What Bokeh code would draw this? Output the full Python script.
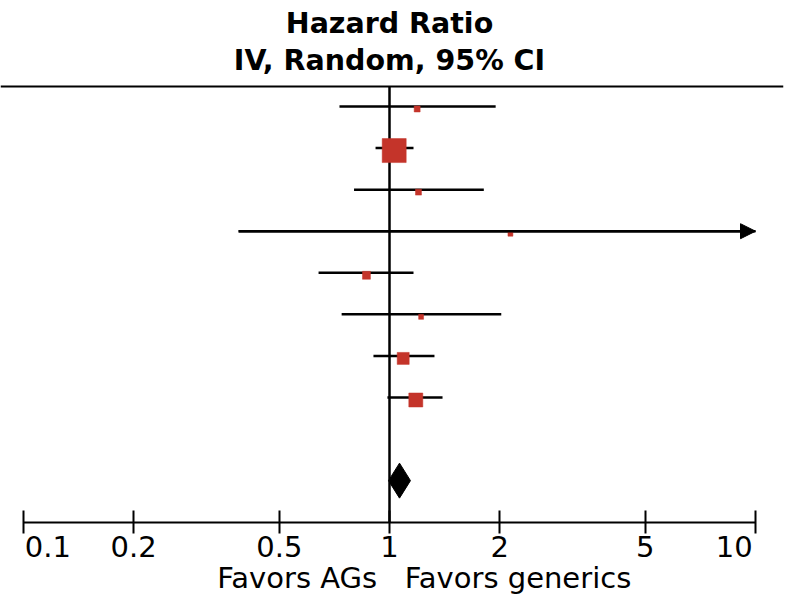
import math
from bokeh.plotting import figure
from bokeh.models import Range1d, FixedTicker, Span, Arrow, NormalHead, ColumnDataSource
from bokeh.core.properties import value
from bokeh.embed import file_html
from bokeh.resources import INLINE

# ---------------- data ----------------
rows = [1, 2, 3, 4, 5, 6, 7, 8]
hr = [1.19, 1.03, 1.20, 2.14, 0.865, 1.22, 1.09, 1.18]
lower = [0.73, 0.916, 0.80, 0.387, 0.64, 0.74, 0.904, 0.987]
upper = [1.95, 1.163, 1.81, 11.8, 1.163, 2.02, 1.327, 1.396]
weight = [3.2, 52.0, 3.2, 2.2, 5.7, 2.2, 13.0, 17.7]

pooled_row = 10
pooled_hr = 1.065
pooled_lower = 0.994
pooled_upper = 1.141

tick_values = [0.1, 0.2, 0.5, 1, 2, 5, 10]
tick_labels = ["0.1", "0.2", "0.5", "1", "2", "5", "10"]

title_1 = "Hazard Ratio"
title_2 = "IV, Random, 95% CI"
favors_left = "Favors AGs"
favors_right = "Favors generics"

# ---------------- layout constants ----------------
W, H = 796, 597
AXIS_LEFT_PX = 23.0     # canvas x of the first tick
PX_DEC = 366.0          # pixels per decade on the x axis
ROW_PX = 41.57          # pixels per row
ROW1_PX = 106.0         # canvas y of row 1
FRAME_W = 783
FRAME_H = 522.0         # frame height (axis line position)
AX_MIN, AX_MAX = tick_values[0], tick_values[-1]

x_lo = 10 ** (math.log10(AX_MIN) - AXIS_LEFT_PX / PX_DEC)
x_hi = 10 ** (math.log10(AX_MIN) + (FRAME_W - AXIS_LEFT_PX) / PX_DEC)
y_top = 1 - ROW1_PX / ROW_PX
y_bot = 1 + (FRAME_H - ROW1_PX) / ROW_PX


def y_at(canvas_px):
    return 1 + (canvas_px - ROW1_PX) / ROW_PX


FONT = "DejaVu Sans"
RED = "#c4342a"
NB = "\u00a0"
THIN = "\u2009"
LABEL_SIZE = "29px"
TITLE_SIZE = "28.5px"

p = figure(width=W, height=H, x_axis_type="log",
           x_range=Range1d(x_lo, x_hi), y_range=Range1d(y_bot, y_top),
           y_axis_location=None, toolbar_location=None, output_backend="svg",
           min_border_left=0, min_border_right=W - FRAME_W, min_border_top=0,
           min_border_bottom=int(H - FRAME_H))
p.xgrid.visible = False
p.ygrid.visible = False
p.outline_line_color = None
p.background_fill_color = "white"
p.border_fill_color = "white"

# header line
y_line = y_at(86)
p.add_layout(Span(location=y_line, dimension="width", line_color="black", line_width=2))

# line of no effect
p.segment(x0=[1], x1=[1], y0=[y_line], y1=[y_bot], line_color="black", line_width=2.5)

# confidence intervals
up_clip = [min(u, AX_MAX) for u in upper]
lo_clip = [max(l, AX_MIN) for l in lower]
src = ColumnDataSource(dict(
    row=rows, hr=hr, lo=lo_clip, up=up_clip,
    row_sq=[r + 2.5 / ROW_PX for r in rows],
    size=[24 * math.sqrt(w / max(weight)) for w in weight],
))
p.segment(x0="lo", x1="up", y0="row", y1="row", source=src, line_color="black", line_width=2.5)

for r, l, u in zip(rows, lower, upper):
    if u > AX_MAX:
        p.add_layout(Arrow(x_start=max(l, AX_MIN), x_end=AX_MAX, y_start=r, y_end=r,
                           line_color="black", line_width=2.5,
                           end=NormalHead(size=15, fill_color="black", line_color="black")))

p.scatter(x="hr", y="row_sq", size="size", marker="square", source=src,
          fill_color=RED, line_color=RED, line_width=0.5)

# pooled diamond
dh = 17.5 / ROW_PX
p.patch(x=[pooled_lower, pooled_hr, pooled_upper, pooled_hr],
        y=[pooled_row, pooled_row - dh, pooled_row, pooled_row + dh],
        fill_color="black", line_color="black")

# header text
p.text(x=[1], y=[y_at(23)], text=[title_1], text_font=value(FONT), text_font_style="bold",
       text_font_size=TITLE_SIZE, text_align="center", text_baseline="alphabetic", text_color="black")
p.text(x=[1], y=[y_at(60)], text=[title_2], text_font=value(FONT), text_font_style="bold",
       text_font_size=TITLE_SIZE, text_align="center", text_baseline="alphabetic", text_color="black")

# x axis
ax = p.xaxis[0]
ax.ticker = FixedTicker(ticks=tick_values, minor_ticks=[])
overrides = {}
for t, lab in zip(tick_values, tick_labels):
    overrides[t] = lab
overrides[tick_values[0]] = NB * 2 + THIN + tick_labels[0]
overrides[tick_values[-1]] = tick_labels[-1] + NB * 4 + THIN
ax.major_label_overrides = overrides
ax.bounds = (AX_MIN, AX_MAX)
ax.axis_line_color = "black"
ax.axis_line_width = 2
ax.major_tick_line_color = "black"
ax.major_tick_line_width = 2
ax.major_tick_in = 12
ax.major_tick_out = 11
ax.minor_tick_line_color = None
ax.major_label_text_font = FONT
ax.major_label_text_font_size = LABEL_SIZE
ax.major_label_text_color = "black"
ax.major_label_standoff = -4

# favours label (gap centred on HR = 1)
ax.axis_label = NB * 7 + favors_left + NB * 3 + favors_right
ax.axis_label_text_font = FONT
ax.axis_label_text_font_size = LABEL_SIZE
ax.axis_label_text_font_style = "normal"
ax.axis_label_text_color = "black"
ax.axis_label_standoff = -6

open("out.html", "w").write(file_html(p, INLINE))
